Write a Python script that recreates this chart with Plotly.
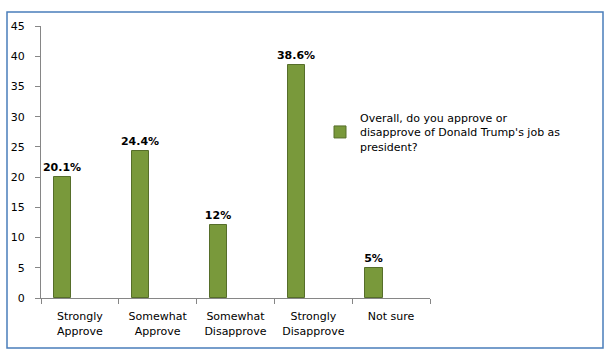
import plotly.graph_objects as go

categories = ["Strongly<br>Approve", "Somewhat<br>Approve", "Somewhat<br>Disapprove", "Strongly<br>Disapprove", "Not sure"]
values = [20.1, 24.4, 12, 38.6, 5]
labels = ["20.1%", "24.4%", "12%", "38.6%", "5%"]
series_name = "Overall, do you approve or<br>disapprove of Donald Trump's job as<br>president?"
y_ticks = [0, 5, 10, 15, 20, 25, 30, 35, 40, 45]

W, H = 612, 359
L, R, T, B = 41, 182, 26, 61
pw, ph = W - L - R, H - T - B

fig = go.Figure()
fig.add_trace(go.Bar(
    x=categories, y=values, name=series_name,
    text=labels, textposition="outside", cliponaxis=False, constraintext="none",
    textfont=dict(family="DejaVu Sans", size=11, color="black", weight="bold"),
    width=0.22, offset=-0.33,
    marker=dict(color="#79993b", line=dict(color="#566e2a", width=1)),
    showlegend=True,
))

fig.update_layout(
    width=W, height=H,
    margin=dict(l=L, r=R, t=T, b=B, autoexpand=False),
    paper_bgcolor="white", plot_bgcolor="white",
    font=dict(family="DejaVu Sans", size=11, color="black"),
    showlegend=True,
    uniformtext=dict(mode=False),
    legend=dict(x=(320 - L) / pw, y=(298 - 104) / ph, xanchor="left", yanchor="top",
                font=dict(size=11, family="DejaVu Sans"), itemwidth=30,
                bgcolor="rgba(0,0,0,0)"),
    xaxis=dict(showline=True, linecolor="#868686", linewidth=1, automargin=False,
               ticks="outside", tickson="boundaries", ticklen=5, tickcolor="#868686",
               ticklabelstandoff=8,
               showgrid=False, tickfont=dict(size=11)),
    yaxis=dict(range=[0, 45], tickvals=y_ticks, showline=True, linecolor="#868686",
               linewidth=1, ticks="outside", ticklen=5, tickcolor="#868686", automargin=False,
               ticklabelstandoff=8,
               showgrid=False, zeroline=False, tickfont=dict(size=11)),
    bargap=0,
)

fig.add_shape(type="rect", xref="paper", yref="paper",
              x0=(7 - L) / pw, x1=(603 - L) / pw,
              y0=(298 - 348) / ph, y1=(298 - 12) / ph,
              line=dict(color="#4a7ebb", width=1.5), fillcolor="rgba(0,0,0,0)")

fig.write_html("out.html", config={"displayModeBar": False},
               post_script="document.body.style.margin='0px';")
